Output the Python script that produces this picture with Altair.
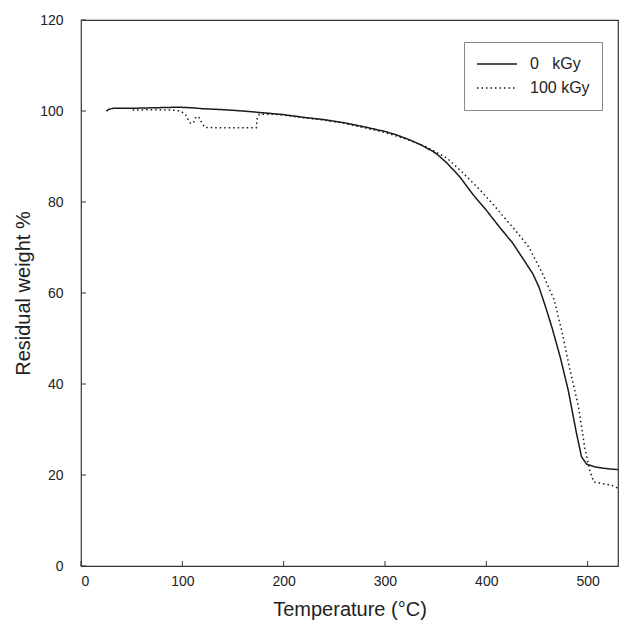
import altair as alt
import pandas as pd

# ---- data ----
legend_labels = ["\u20070\u2007\u00a0kGy", "100 kGy"]

temp_0 = [25, 28, 32, 50, 70, 90, 100, 110, 120, 140, 160, 180, 200, 220, 240,
          260, 280, 300, 312, 325, 335, 345, 351, 361, 374, 387, 400, 413, 426,
          439, 446, 452, 458, 465, 473, 481, 489, 494, 499, 507, 515, 523, 530]
weight_0 = [100.0, 100.4, 100.6, 100.6, 100.7, 100.8, 100.8, 100.7, 100.5, 100.3,
            100.0, 99.6, 99.2, 98.6, 98.1, 97.4, 96.5, 95.5, 94.7, 93.6, 92.6,
            91.4, 90.6, 88.6, 85.5, 81.6, 78.2, 74.5, 71.0, 66.6, 64.2, 61.3,
            57.3, 52.3, 45.9, 38.5, 29.2, 24.0, 22.4, 21.8, 21.5, 21.3, 21.2]

temp_100 = [51, 70, 90, 98, 103, 106, 108, 111, 113, 116, 119, 122, 140, 160, 173,
            174, 176, 190, 200, 220, 240, 260, 280, 300, 320, 340, 350, 361, 377,
            394, 409, 420, 426, 442, 455, 467, 475, 482, 491, 497, 502, 506, 515,
            523, 530]
weight_100 = [100.2, 100.3, 100.2, 100.0, 99.3, 98.0, 97.3, 97.4, 98.5, 98.8, 97.5,
              96.4, 96.3, 96.3, 96.3, 98.5, 99.3, 99.3, 99.1, 98.5, 98.0, 97.3,
              96.3, 95.3, 93.9, 92.2, 91.0, 89.7, 86.4, 82.6, 78.9, 76.0, 74.5,
              70.1, 64.5, 58.5, 51.2, 43.7, 35.0, 26.2, 21.1, 18.5, 18.1, 17.8, 17.1]

x_ticks = [0, 100, 200, 300, 400, 500]
y_ticks = [0, 20, 40, 60, 80, 100, 120]

df = pd.concat([
    pd.DataFrame({"T": temp_0, "W": weight_0, "dose": legend_labels[0], "order": range(len(temp_0))}),
    pd.DataFrame({"T": temp_100, "W": weight_100, "dose": legend_labels[1], "order": range(len(temp_100))}),
], ignore_index=True)
xtick_df = pd.DataFrame({"T": x_ticks})
ytick_df = pd.DataFrame({"W": y_ticks})

W_PLOT, H_PLOT = 537, 546
TICK_LEN = 5
FONT = "Liberation Sans"
INK = "#1a1a1a"

xscale = alt.Scale(domain=[0, 530], nice=False, zero=False)
yscale = alt.Scale(domain=[0, 120], nice=False)

x_axis = alt.Axis(values=x_ticks, title="Temperature (°C)", grid=False,
                  ticks=False, domain=False, labelFontSize=14,
                  labelPadding=8, labelColor="#222", labelFont=FONT,
                  titleFont=FONT, titleFontSize=20, titleFontWeight="normal",
                  titleColor="#222", titleY=49, titleBaseline="alphabetic")
y_axis = alt.Axis(values=y_ticks, title="Residual weight %", grid=False,
                  ticks=False, domain=False, labelFontSize=14,
                  labelPadding=18, labelColor="#222", labelFont=FONT,
                  titleFont=FONT, titleFontSize=20, titleFontWeight="normal",
                  titleColor="#222", titleX=-52, titleY=273,
                  titleAlign="center", titleBaseline="alphabetic")

lines = alt.Chart(df).mark_line(color=INK, strokeWidth=1.5).encode(
    x=alt.X("T:Q", scale=xscale, axis=x_axis, title="Temperature (°C)"),
    y=alt.Y("W:Q", scale=yscale, axis=y_axis, title="Residual weight %"),
    strokeDash=alt.StrokeDash(
        "dose:N",
        scale=alt.Scale(domain=legend_labels, range=[[1, 0], [1.5, 3]]),
        legend=alt.Legend(title=None, orient="none", legendX=383, legendY=22,
                          padding=12, strokeColor="#888", fillColor="white",
                          symbolType="stroke", symbolSize=1600,
                          symbolStrokeWidth=1.5, symbolStrokeColor=INK,
                          labelFont=FONT, labelFontSize=16, labelColor="#222",
                          labelOffset=12, clipHeight=20, rowPadding=4)),
    order="order:Q",
)

# inward tick marks on the bottom and left axes
xticks = alt.Chart(xtick_df).mark_rule(color="#333", strokeWidth=1).encode(
    x=alt.X("T:Q", scale=xscale, axis=x_axis, title="Temperature (°C)"),
    y=alt.value(H_PLOT), y2=alt.value(H_PLOT - TICK_LEN),
)
yticks = alt.Chart(ytick_df).mark_rule(color="#333", strokeWidth=1).encode(
    y=alt.Y("W:Q", scale=yscale, axis=y_axis, title="Residual weight %"),
    x=alt.value(0), x2=alt.value(TICK_LEN),
)

chart = alt.layer(lines, xticks, yticks).properties(
    width=W_PLOT, height=H_PLOT,
    autosize=alt.AutoSizeParams(type="none"),
    padding={"left": 73, "top": 12, "right": 1, "bottom": 57},
).configure_view(stroke="#333", strokeWidth=1.2)

chart.save("out.html", embed_options={"renderer": "svg", "actions": False})
